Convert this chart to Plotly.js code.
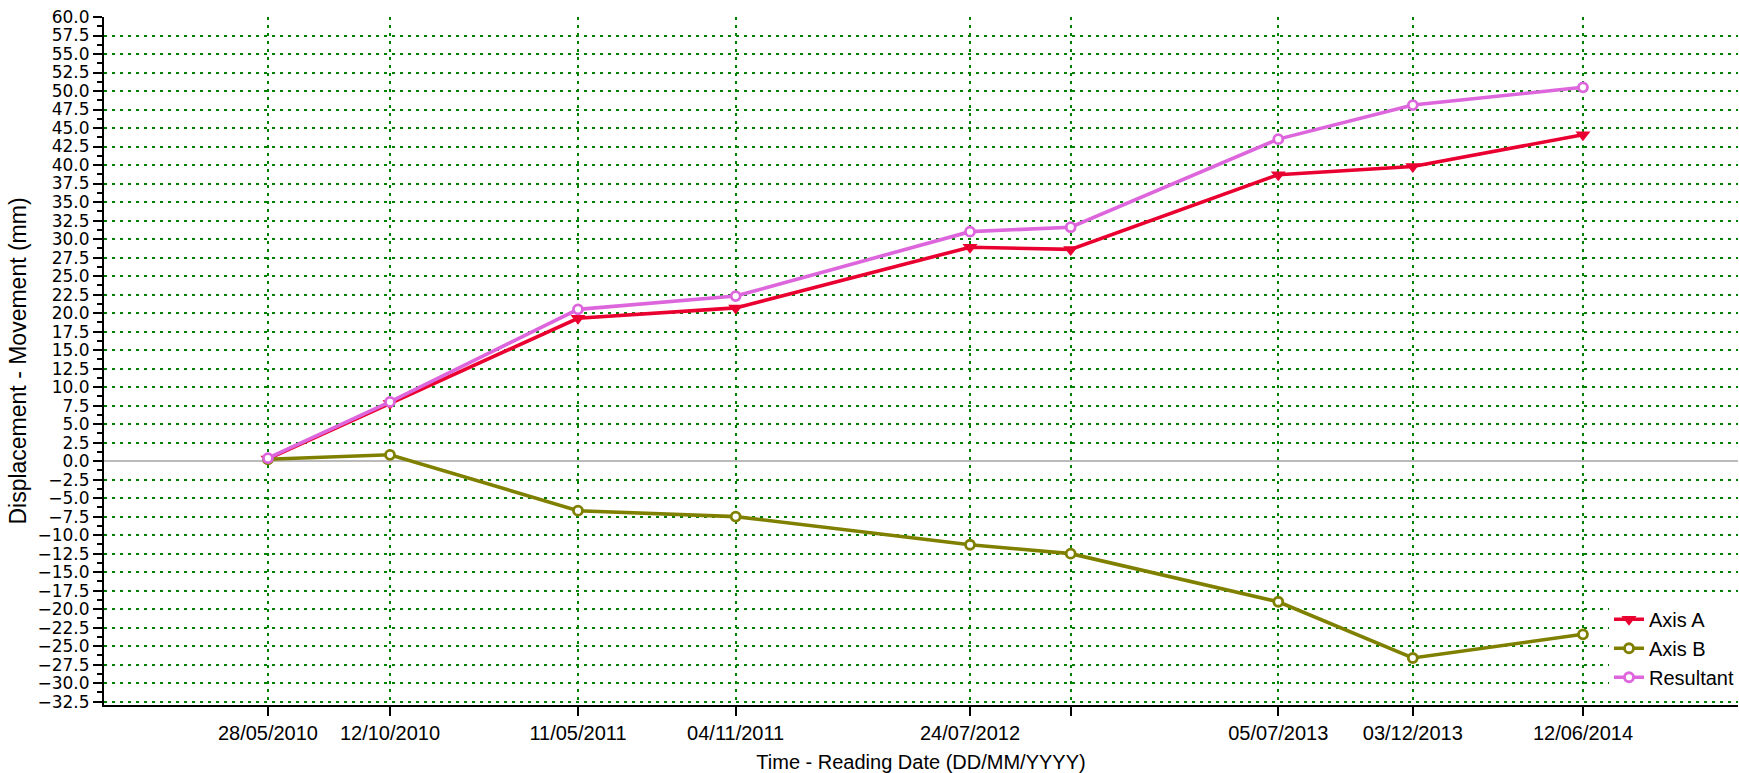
<!DOCTYPE html>
<html>
<head>
<meta charset="utf-8">
<script src="https://cdn.plot.ly/plotly-3.0.1.min.js"></script>
<style>html,body{margin:0;padding:0;background:#fff;}#chart{width:1739px;height:773px;}</style>
</head>
<body>
<div id="chart"></div>
<script>
// Reading dates (x values) and their tick labels
var readingDates = ['2010-05-28','2010-10-12','2011-05-11','2011-11-04','2012-07-24','2012-11-14','2013-07-05','2013-12-03','2014-06-12'];
var tickLabels = ['28/05/2010','12/10/2010','11/05/2011','04/11/2011','24/07/2012','','05/07/2013','03/12/2013','12/06/2014'];

// Series values (mm)
var axisA = [0.3, 7.8, 19.3, 20.7, 28.9, 28.6, 38.7, 39.8, 44.1];
var axisB = [0.25, 0.85, -6.7, -7.5, -11.3, -12.5, -19.0, -26.6, -23.4];
var resultant = [0.4, 8.0, 20.5, 22.3, 31.0, 31.6, 43.5, 48.1, 50.5];

var xRange = ['2009-11-25', '2014-12-03'];
var yRange = [-32.95, 60];

var FONT = 'Liberation Sans, Arial, sans-serif';
var GRID = '#008000';

var traces = [
  {x: readingDates, y: axisA, name: 'Axis A', mode: 'lines+markers', type: 'scatter',
   line: {color: '#EA0030', width: 3.6},
   marker: {symbol: 'triangle-down', size: 13, color: '#EA0030'}},
  {x: readingDates, y: axisB, name: 'Axis B', mode: 'lines+markers', type: 'scatter',
   line: {color: '#808000', width: 3.6},
   marker: {symbol: 'circle', size: 9, color: '#ffffff', line: {color: '#808000', width: 2.8}}},
  {x: readingDates, y: resultant, name: 'Resultant', mode: 'lines+markers', type: 'scatter',
   line: {color: '#DD66DD', width: 3.6},
   marker: {symbol: 'circle', size: 9, color: '#ffffff', line: {color: '#DD66DD', width: 2.8}}}
];

var layout = {
  width: 1739, height: 773,
  margin: {l: 104, r: 0, t: 17, b: 68, pad: 0},
  paper_bgcolor: '#ffffff', plot_bgcolor: '#ffffff',
  font: {family: FONT, color: '#000000', size: 20},
  showlegend: true,
  legend: {x: 0.921, y: 0.153, xanchor: 'left', yanchor: 'top', bgcolor: '#ffffff',
           borderwidth: 0, font: {family: FONT, size: 20, color: '#000'}, tracegroupgap: 0},
  xaxis: {
    type: 'date', range: xRange, tickmode: 'array', tickvals: readingDates, ticktext: tickLabels,
    ticks: 'outside', ticklen: 9, tickwidth: 2, tickcolor: '#000',
    showline: true, linecolor: '#000', linewidth: 2,
    showgrid: true, gridcolor: GRID, gridwidth: 2, griddash: '3px,5px',
    zeroline: false, tickangle: 0,
    tickfont: {family: FONT, size: 20, color: '#000'},
    title: {text: 'Time - Reading Date (DD/MM/YYYY)', font: {family: FONT, size: 20, color: '#000'}, standoff: 13},
    automargin: false
  },
  xaxis2: {
    type: 'date', overlaying: 'x', anchor: 'y', side: 'top', range: xRange,
    tickmode: 'array', tickvals: readingDates, showticklabels: false,
    ticks: 'inside', ticklen: 9, tickwidth: 2, tickcolor: '#000',
    showline: true, linecolor: '#000', linewidth: 2, showgrid: false, zeroline: false
  },
  xaxis3: {
    type: 'date', overlaying: 'x', anchor: 'y', side: 'bottom', range: xRange,
    tickmode: 'array', tickvals: readingDates, showticklabels: false,
    ticks: 'inside', ticklen: 8, tickwidth: 2, tickcolor: '#000',
    showline: false, showgrid: false, zeroline: false
  },
  yaxis: {
    range: yRange, tick0: 0, dtick: 2.5, tickformat: '.1f',
    ticks: 'outside', ticklen: 9, tickwidth: 2, tickcolor: '#000',
    minor: {dtick: 1.25, tick0: 0, ticks: 'outside', ticklen: 5, tickwidth: 2, tickcolor: '#000', showgrid: false},
    showline: true, linecolor: '#000', linewidth: 2,
    showgrid: true, gridcolor: GRID, gridwidth: 2, griddash: '3px,5px',
    zeroline: true, zerolinecolor: '#BBBBBB', zerolinewidth: 2,
    tickfont: {family: 'DejaVu Sans, sans-serif', size: 17, color: '#000'},
    title: {text: 'Displacement - Movement (mm)', font: {family: FONT, size: 23, color: '#000'}, standoff: 4},
    automargin: false
  },
  yaxis2: {
    overlaying: 'y', anchor: 'x', side: 'left', range: yRange, tick0: 0, dtick: 1.25,
    showticklabels: false, ticks: 'inside', ticklen: 6, tickwidth: 2, tickcolor: '#000',
    showline: false, showgrid: false, zeroline: false
  }
};

Plotly.newPlot('chart', traces, layout, {displayModeBar: false, staticPlot: true});
</script>
</body>
</html>
